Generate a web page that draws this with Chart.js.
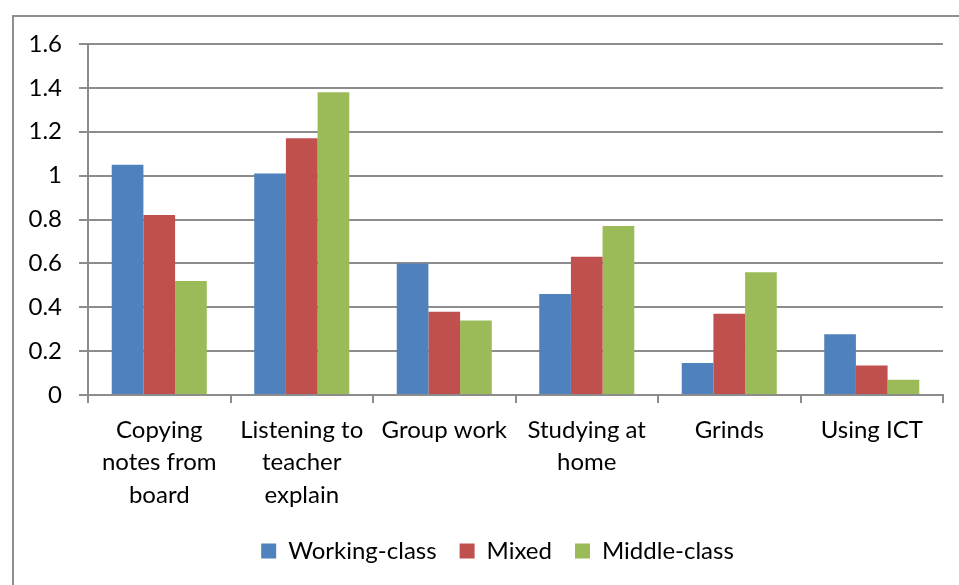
<!DOCTYPE html>
<html>
<head>
<meta charset="utf-8">
<script src="https://cdn.jsdelivr.net/npm/chart.js@4/dist/chart.umd.min.js"></script>
<style>
  html, body { margin: 0; padding: 0; background: #fff; overflow: hidden; }
  #frame { position: absolute; left: 12px; top: 15px; width: 1200px; height: 1200px;
           border-left: 2px solid #8e8e8e; border-top: 2px solid #8e8e8e; }
  #wrap { position: absolute; left: 0; top: 0; width: 982px; height: 585px; }
</style>
</head>
<body>
<div id="frame"></div>
<div id="wrap"><canvas id="studyChart"></canvas></div>
<script>
// learning activities, one group of bars each
const activities = [
    ['Copying', 'notes from', 'board'],
    ['Listening to', 'teacher', 'explain'],
    'Group work',
    ['Studying at', 'home'],
    'Grinds',
    'Using ICT'
];
const workingClass = [1.05, 1.01, 0.60, 0.46, 0.146, 0.277];
const mixed        = [0.82, 1.17, 0.38, 0.63, 0.37, 0.135];
const middleClass  = [0.52, 1.38, 0.34, 0.77, 0.56, 0.07];
const yTicks = [0, 0.2, 0.4, 0.6, 0.8, 1, 1.2, 1.4, 1.6];

const gridGrey = '#8c8c8c';
const font = { family: 'Lato, "Open Sans", sans-serif', size: 24 };

// nudge the legend to the right so it sits under the middle of the frame
const legendShift = {
    id: 'legendShift',
    afterLayout(chart) {
        const lg = chart.legend;
        if (lg) { lg.left += 20; lg.right += 20; }
    }
};

const ctx = document.getElementById('studyChart').getContext('2d');
const studyChart = new Chart(ctx, {
    type: 'bar',
    data: {
        labels: activities,
        datasets: [
            { label: 'Working-class', data: workingClass, backgroundColor: '#4f81bd' },
            { label: 'Mixed', data: mixed, backgroundColor: '#c0504d' },
            { label: 'Middle-class', data: middleClass, backgroundColor: '#9bbb59' }
        ]
    },
    plugins: [legendShift],
    options: {
        responsive: true,
        maintainAspectRatio: false,
        animation: false,
        categoryPercentage: 0.667,
        barPercentage: 1.0,
        layout: { padding: { left: 12, right: 39, top: 44, bottom: 12 } },
        plugins: {
            tooltip: { enabled: false },
            legend: {
                position: 'bottom',
                labels: {
                    color: '#000',
                    font: font,
                    boxWidth: 15,
                    boxHeight: 15,
                    padding: 23
                }
            }
        },
        scales: {
            x: {
                grid: {
                    offset: true,
                    drawOnChartArea: false,
                    tickLength: 8,
                    color: gridGrey,
                    lineWidth: 2
                },
                border: { color: gridGrey, width: 2 },
                ticks: {
                    color: '#000',
                    font: { ...font, lineHeight: 1.35 },
                    padding: 11,
                    autoSkip: false,
                    maxRotation: 0
                },
                afterFit(scale) { scale.height = 121; }
            },
            y: {
                min: 0,
                max: 1.6,
                afterBuildTicks(scale) { scale.ticks = yTicks.map(v => ({ value: v })); },
                grid: { color: gridGrey, lineWidth: 2, tickLength: 9 },
                border: { color: gridGrey, width: 2 },
                ticks: {
                    color: '#000',
                    font: font,
                    padding: 17,
                    callback: v => String(v)
                },
                afterFit(scale) { scale.width = 76; }
            }
        }
    }
});
</script>
</body>
</html>
